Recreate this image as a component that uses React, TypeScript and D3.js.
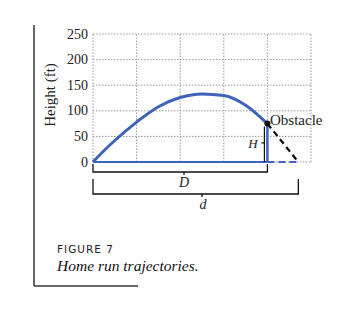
import React from "react";
import * as d3 from "d3";

const distanceFt = [0, 25, 50, 100, 150, 200, 250, 300, 350, 400];
const heightFt = [0, 22, 42, 78, 108, 126, 133, 130, 111, 75];
const yTicks = [0, 50, 100, 150, 200, 250];
const xGrid = [0, 100, 200, 300, 400, 500];
const obstacleX = 400;
const obstacleH = 75;
const landingX = 471;
const yLabel = "Height (ft)";
const figureLabel = "FIGURE 7";
const caption = "Home run trajectories.";

export default function App() {
  const W = 348, H = 319;
  const x = d3.scaleLinear().domain([0, 500]).range([93, 311]);
  const y = d3.scaleLinear().domain([0, 250]).range([162, 34]);
  const pts: [number, number][] = distanceFt.map((d, i) => [d, heightFt[i]]);
  const line = d3
    .line<[number, number]>()
    .x((d) => x(d[0]))
    .y((d) => y(d[1]))
    .curve(d3.curveMonotoneX);
  const blue = "#3f63b8";
  const serif = "'Liberation Serif', 'DejaVu Serif', serif";
  const sans = "'DejaVu Sans', 'Liberation Sans', sans-serif";
  const y0 = y(0);
  const bracket = (x1: number, x2: number, top: number, bottom: number, mid: number) =>
    `M${x1},${top} L${x1},${bottom} L${x2},${bottom} L${x2},${top} M${mid},${bottom} L${mid},${bottom + 3}`;
  return (
    <svg width={W} height={H} style={{ position: "absolute", left: 0, top: 0, background: "#fff" }}>
      {/* frame lines */}
      <line x1={34} x2={34} y1={25} y2={286} stroke="#333" strokeWidth={1.5} />
      <line x1={34} x2={138} y1={286} y2={286} stroke="#333" strokeWidth={1.5} />
      {/* grid */}
      {yTicks.map((t) => (
        <line key={"gy" + t} x1={x(0)} x2={x(500)} y1={y(t)} y2={y(t)} stroke="#999" strokeWidth={1} strokeDasharray="1.5,1.5" />
      ))}
      {xGrid.map((t) => (
        <line key={"gx" + t} x1={x(t)} x2={x(t)} y1={y(0)} y2={y(250)} stroke="#999" strokeWidth={1} strokeDasharray="1.5,1.5" />
      ))}
      {/* y tick labels */}
      {yTicks.map((t) => (
        <text key={"yl" + t} x={88} y={y(t) + 4.5} textAnchor="end" fontFamily={serif} fontSize={14} fill="#222">
          {t}
        </text>
      ))}
      <text transform={`translate(55,95) rotate(-90)`} textAnchor="middle" fontFamily={serif} fontSize={15} fill="#222">
        {yLabel}
      </text>
      {/* baseline */}
      <line x1={x(0)} x2={x(obstacleX)} y1={y0} y2={y0} stroke={blue} strokeWidth={2} />
      <line x1={x(obstacleX)} x2={x(landingX)} y1={y0} y2={y0} stroke={blue} strokeWidth={2} strokeDasharray="7,4" />
      {/* H bracket */}
      <path d={`M${x(obstacleX) - 3},${y(obstacleH) + 3} L${x(obstacleX) - 3},${y0} M${x(obstacleX) - 3},${(y(obstacleH) + y0) / 2} L${x(obstacleX) - 6},${(y(obstacleH) + y0) / 2}`} stroke="#111" strokeWidth={1.2} fill="none" />
      {/* obstacle */}
      <line x1={x(obstacleX)} x2={x(obstacleX)} y1={y0} y2={y(obstacleH)} stroke={blue} strokeWidth={2.5} />
      {/* trajectory */}
      <path d={line(pts) || ""} fill="none" stroke={blue} strokeWidth={3} />
      {/* dashed continuation */}
      <line x1={x(obstacleX)} y1={y(obstacleH)} x2={x(landingX)} y2={y0} stroke="#111" strokeWidth={2.3} strokeDasharray="6,4" />
      <circle cx={x(obstacleX)} cy={y(obstacleH)} r={3} fill="#111" />
      <text x={270} y={125} fontFamily={serif} fontSize={15} fill="#222">Obstacle</text>
      <text x={253} y={148} textAnchor="middle" fontFamily={serif} fontStyle="italic" fontSize={13} fill="#222">H</text>
      {/* brackets */}
      <path d={bracket(x(0), x(obstacleX), 164, 172, 184)} stroke="#111" strokeWidth={1.3} fill="none" />
      <text x={184} y={187} textAnchor="middle" fontFamily={serif} fontStyle="italic" fontSize={14} fill="#222">D</text>
      <path d={bracket(x(0), x(landingX), 179, 194, 202)} stroke="#111" strokeWidth={1.3} fill="none" />
      <text x={203} y={209} textAnchor="middle" fontFamily={serif} fontStyle="italic" fontSize={14} fill="#222">d</text>
      {/* caption */}
      <text x={57} y={253} fontFamily={sans} fontSize={10.5} letterSpacing={1} fill="#222">{figureLabel}</text>
      <text x={57} y={271} fontFamily={serif} fontStyle="italic" fontSize={15.5} fill="#111">{caption}</text>
    </svg>
  );
}
